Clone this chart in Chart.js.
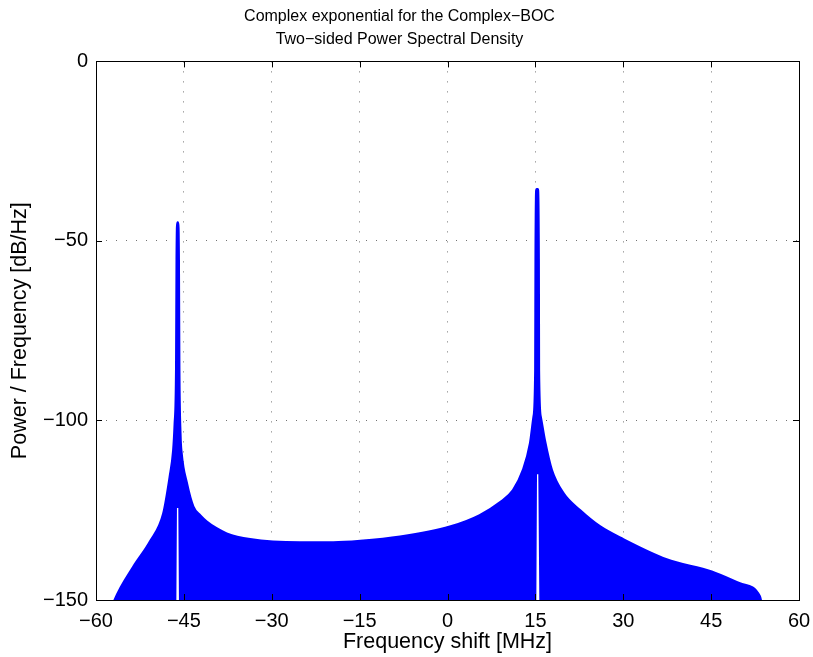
<!DOCTYPE html>
<html>
<head>
<meta charset="utf-8">
<script src="https://cdn.jsdelivr.net/npm/chart.js@4.4.1/dist/chart.umd.min.js"></script>
<style>
    html, body { margin: 0; padding: 0; background: #ffffff; }
    #wrap { width: 813px; height: 657px; }
</style>
</head>
<body>
<div id="wrap"><canvas id="psd"></canvas></div>
<script>
// upper envelope of the spectrum (MHz, dB/Hz)
const envFreq = [-57.0, -56.8, -53.6, -50.8, -48.5, -47.4, -46.8, -46.55, -46.3, -46.22, -46.1, -46.0, -45.88, -45.8, -45.6,
    -45.4, -44.5, -43.4, -42.2, -41.1, -39.5, -37.7, -33.7, -25.2, -19.5, -14.9, -8.1, 0.4, 5.5, 9.0, 11.2,
    12.9, 14.1, 14.7, 15.0, 15.05, 15.2, 15.4, 15.56, 15.6, 15.9, 16.6, 17.8, 19.8, 22.6, 26.0,
    30.0, 37.4, 45.1, 49.9, 53.3, 53.6];
const envLevel = [-151, -150, -140.7, -133.8, -125.9, -115.7, -108.3, -101, -85, -55, -44.9, -44.9, -55, -85, -104,
    -109.2, -117.5, -124, -126.5, -128.2, -130.0, -131.5, -133.1, -134.0, -134.0, -133.6, -132.4, -129.6, -126.4, -122.8, -119.4,
    -113.8, -106.4, -99, -86, -55, -35.6, -35.6, -55, -86, -99, -105.5, -113.8, -120.3, -125, -129.5,
    -133.1, -138.7, -142.1, -145.4, -149, -151];

// lower edge: the signal only stops reaching the floor right at the two carriers
const floorFreq = [-60, -46.3, -46.18, -45.95, -45.82, 15.15, 15.28, 15.5, 15.7, 60];
const floorLevel = [-155, -155, -124.4, -124.4, -155, -155, -115, -115, -155, -155];

const xTicks = [-60, -45, -30, -15, 0, 15, 30, 45, 60];
const yTicks = [-150, -100, -50, 0];

const FONT = "'Liberation Sans', Arial, Helvetica, sans-serif";
const BLUE = '#0000ff';

const toPoints = (xs, ys) => xs.map((x, i) => ({ x: x, y: ys[i] }));
const minus = (v) => String(v).replace('-', '\u2212');

// MATLAB style box with inward tick marks on all four sides
const matlabBox = {
    id: 'matlabBox',
    afterDatasetsDraw(chart) {
        const { ctx, chartArea: a, scales } = chart;
        const len = 6;
        ctx.save();
        ctx.strokeStyle = '#000000';
        ctx.lineWidth = 1;
        ctx.beginPath();
        xTicks.forEach(v => {
            const px = Math.round(scales.x.getPixelForValue(v)) + 0.5;
            ctx.moveTo(px, a.bottom);
            ctx.lineTo(px, a.bottom - len);
            ctx.moveTo(px, a.top);
            ctx.lineTo(px, a.top + len);
        });
        yTicks.forEach(v => {
            const py = Math.round(scales.y.getPixelForValue(v)) + 0.5;
            ctx.moveTo(a.left, py);
            ctx.lineTo(a.left + len, py);
            ctx.moveTo(a.right, py);
            ctx.lineTo(a.right - len, py);
        });
        ctx.stroke();
        ctx.strokeRect(Math.round(a.left) + 0.5, Math.round(a.top) + 0.5,
            Math.round(a.right - a.left), Math.round(a.bottom - a.top));
        ctx.restore();
    }
};

new Chart(document.getElementById('psd'), {
    type: 'line',
    data: {
        datasets: [
            {
                label: 'PSD',
                data: toPoints(envFreq, envLevel),
                borderColor: BLUE,
                backgroundColor: BLUE,
                borderWidth: 2.5,
                borderJoinStyle: 'round',
                borderCapStyle: 'round',
                pointRadius: 0,
                cubicInterpolationMode: 'monotone',
                fill: '+1'
            },
            {
                label: 'floor',
                data: toPoints(floorFreq, floorLevel),
                borderWidth: 0,
                borderColor: 'rgba(0,0,0,0)',
                pointRadius: 0,
                tension: 0,
                fill: false
            }
        ]
    },
    options: {
        responsive: true,
        maintainAspectRatio: false,
        animation: false,
        layout: { padding: { left: 0, right: 14, top: 0, bottom: 0 } },
        plugins: {
            legend: { display: false },
            tooltip: { enabled: false },
            title: {
                display: true,
                text: ['Complex exponential for the Complex\u2212BOC', 'Two\u2212sided Power Spectral Density'],
                color: '#000000',
                font: { family: FONT, size: 16, weight: 'normal', lineHeight: 1.45 },
                padding: { top: 5, bottom: 10 }
            }
        },
        scales: {
            x: {
                type: 'linear',
                min: -60,
                max: 60,
                afterBuildTicks: (scale) => { scale.ticks = xTicks.map(v => ({ value: v })); },
                afterFit: (scale) => {
                    scale.height = 57;
                    scale.paddingLeft = 0;
                    scale.paddingRight = 0;
                },
                ticks: {
                    color: '#000000',
                    font: { family: FONT, size: 20 },
                    padding: 9,
                    maxRotation: 0,
                    callback: (v) => minus(v)
                },
                grid: { color: 'rgba(0,0,0,0.55)', drawTicks: false, lineWidth: 1 },
                border: { display: false, dash: [1, 9] },
                title: {
                    display: true,
                    text: 'Frequency shift [MHz]',
                    color: '#000000',
                    font: { family: FONT, size: 21.5 },
                    padding: { top: 0, bottom: 2 }
                }
            },
            y: {
                type: 'linear',
                min: -150,
                max: 0,
                afterBuildTicks: (scale) => { scale.ticks = yTicks.map(v => ({ value: v })); },
                afterFit: (scale) => { scale.width = 96; },
                ticks: {
                    color: '#000000',
                    font: { family: FONT, size: 20 },
                    padding: 8,
                    callback: (v) => minus(v)
                },
                grid: { color: 'rgba(0,0,0,0.55)', drawTicks: false, lineWidth: 1 },
                border: { display: false, dash: [1, 9] },
                title: {
                    display: true,
                    text: 'Power / Frequency [dB/Hz]',
                    color: '#000000',
                    font: { family: FONT, size: 21.5 },
                    padding: { top: 7.5, bottom: 0 }
                }
            }
        }
    },
    plugins: [matlabBox]
});
</script>
</body>
</html>
